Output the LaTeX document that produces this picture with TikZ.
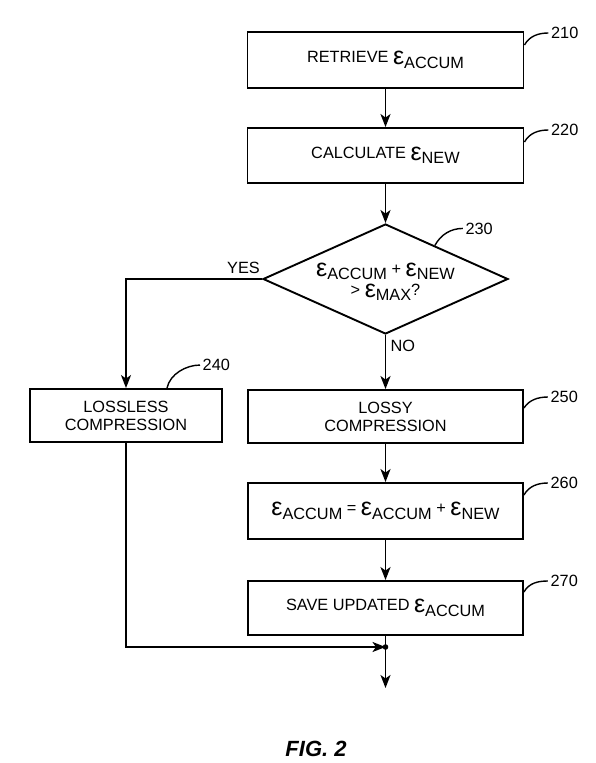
\documentclass[tikz,border=0pt]{standalone}
\usepackage{fontspec}
\setmainfont{Liberation Sans}
\usetikzlibrary{shapes.geometric,arrows.meta,calc}
\newcommand{\ep}[1]{\raisebox{-2pt}{\fontsize{25}{25}\selectfont ε}\raisebox{-5.5pt}{#1}}
\begin{document}
\begin{tikzpicture}[x=1pt,y=-1pt,
  txt/.style={font=\fontsize{16.3}{18}\selectfont},
  box/.style={draw, line width=1.9pt, inner sep=0pt, align=center, txt},
  dec/.style={draw, line width=1.9pt, shape=diamond, inner sep=0pt},
  arr/.style={line width=1.9pt, -{Stealth[length=13pt,width=10pt,inset=3.5pt]}},
  plain/.style={line width=1.9pt},
  lead/.style={line width=1.4pt},
  num/.style={txt, anchor=west, inner sep=0pt, xshift=2pt}]
\useasboundingbox (0,0) rectangle (596,763);
\fill[white] (0,0) rectangle (596,763);

\node[box, minimum width=276pt, minimum height=56pt] (b210) at (385.5,60) {RETRIEVE \ep{ACCUM}};
\node[box, minimum width=276pt, minimum height=55pt] (b220) at (385.5,155.5) {CALCULATE \ep{NEW}};
\node[dec, minimum width=245pt, minimum height=110pt] (d230) at (385.5,279) {};
\node[txt, align=center, inner sep=0pt, font=\fontsize{16.3}{21}\selectfont] (d230t) at ([yshift=-3pt]d230.center) {\ep{ACCUM} + \ep{NEW}\\> \ep{MAX}?};
\node[box, minimum width=192pt, minimum height=53pt] (b240) at (126,415.5) {LOSSLESS\\COMPRESSION};
\node[box, minimum width=275pt, minimum height=53pt] (b250) at (385.5,416.5) {LOSSY\\COMPRESSION};
\node[box, minimum width=275pt, minimum height=56pt] (b260) at (385.5,511) {\ep{ACCUM} = \ep{ACCUM} + \ep{NEW}};
\node[box, minimum width=275pt, minimum height=54pt] (b270) at (385.5,608) {SAVE UPDATED \ep{ACCUM}};
\coordinate (j) at (385.5,647);
\coordinate (e) at (385.5,688);

% connectors
\draw[arr] (b210) -- (b220);
\draw[arr] (b220) -- (d230);
\draw[arr] (d230.west) -| (b240.north);
\draw[arr] (d230.south) -- (b250.north);
\draw[arr] (b250) -- (b260);
\draw[arr] (b260) -- (b270);
\draw[plain] (b270.south) -- (j);
\draw[arr] (j) -- (e);
\draw[arr] (b240.south) |- (j);
\fill (j) circle (2.8pt);

% branch labels
\node[txt, anchor=south east, inner sep=0pt] (yes) at ([xshift=-2pt,yshift=5pt]d230.west) {YES};
\node[txt, anchor=north west, inner sep=0pt] (no) at ([xshift=5pt,yshift=-5pt]d230.south) {NO};

% reference numerals
\draw[lead] ([yshift=15pt]b210.east) .. controls +(5,-9) and +(-10,0) .. +(24,-12) node[num] (n210) {210};
\draw[lead] ([yshift=13.5pt]b220.east) .. controls +(5,-9) and +(-10,0) .. +(24,-12) node[num] (n220) {220};
\draw[lead] ($(d230.north)!0.4!(d230.east)$) .. controls +(6,-11) and +(-12,0) .. +(28,-17) node[num] (n230) {230};
\draw[lead] ([xshift=41pt]b240.north) .. controls +(3,-14) and +(-14,0) .. +(33,-23) node[num] (n240) {240};
\draw[lead] ([yshift=8.5pt]b250.east) .. controls +(5,-8) and +(-10,0) .. +(24,-11) node[num] (n250) {250};
\draw[lead] ([yshift=16pt]b260.east) .. controls +(5,-9) and +(-10,0) .. +(24,-12) node[num] (n260) {260};
\draw[lead] ([yshift=16pt]b270.east) .. controls +(5,-9) and +(-10,0) .. +(24,-11) node[num] (n270) {270};

\node[font=\fontsize{22}{22}\selectfont\bfseries\itshape] (fig) at (316,749) {FIG. 2};
\end{tikzpicture}
\end{document}
